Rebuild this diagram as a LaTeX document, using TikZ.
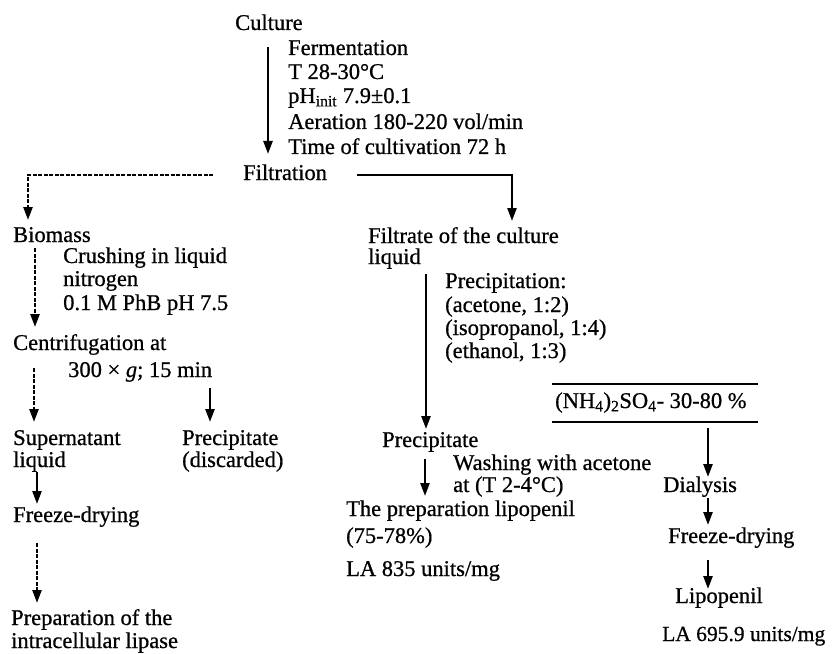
\documentclass[tikz,border=0pt]{standalone}
\usepackage{fontspec}
\setmainfont[FakeBold=0.7]{Liberation Serif}
\usetikzlibrary{arrows.meta}
\begin{document}
\begin{tikzpicture}[x=1bp,y=-1bp,
  txt/.style={anchor=base west,inner sep=0pt,font=\fontsize{22.5bp}{24bp}\selectfont},
  arr/.style={line width=2.4bp,-{Triangle[width=9bp,length=13bp]}},
  darr/.style={arr,dash pattern=on 4bp off 1.5bp},
  rule/.style={line width=1.8bp}]
\useasboundingbox (0,0) rectangle (832,654);
% top
\node[txt] (cult) at (235,30) {Culture};
\node[txt] (ferm1) at (288,55) {Fermentation};
\node[txt] (ferm2) at (288,79) {T 28-30°C};
\node[txt] (ferm3) at (288,103) {pH\textsubscript{init} 7.9±0.1};
\node[txt] (ferm4) at (288,129) {Aeration 180-220 vol/min};
\node[txt] (ferm5) at (288,154) {Time of cultivation 72 h};
\node[txt] (filt) at (243,180) {Filtration};
\coordinate (c1) at (268,47);
\coordinate (c2) at (268,154);
\draw[arr] (c1) -- (c2);
% left branch
\node[txt] (bio) at (13,242) {Biomass};
\node[txt] (cr1) at (63,263) {Crushing in liquid};
\node[txt] (cr2) at (63,286) {nitrogen};
\node[txt] (cr3) at (63,310) {0.1 M PhB pH 7.5};
\node[txt] (cen1) at (13,350) {Centrifugation at};
\node[txt] (cen2) at (68,377) {300 × \textit{g}; 15 min};
\node[txt] (sup1) at (13,445) {Supernatant};
\node[txt] (sup2) at (13,467) {liquid};
\node[txt] (pd1) at (182,445) {Precipitate};
\node[txt] (pd2) at (182,467) {(discarded)};
\node[txt] (fd1) at (13,522) {Freeze-drying};
\node[txt] (prep1) at (11,625) {Preparation of the};
\node[txt] (prep2) at (11,648) {intracellular lipase};
\coordinate (lf) at (213,175);
\coordinate (lb) at (28,220);
\draw[darr] (lf) -| (lb);
\coordinate (a1) at (35,248);
\coordinate (a2) at (35,327);
\draw[darr] (a1) -- (a2);
\coordinate (a3) at (34,368);
\coordinate (a4) at (34,422);
\draw[darr] (a3) -- (a4);
\coordinate (a5) at (210,388);
\coordinate (a6) at (210,422);
\draw[arr] (a5) -- (a6);
\coordinate (a7) at (37,472);
\coordinate (a8) at (37,504);
\draw[arr] (a7) -- (a8);
\coordinate (a9) at (37,543);
\coordinate (a10) at (37,603);
\draw[darr] (a9) -- (a10);
% middle branch
\node[txt] (fc1) at (368,243) {Filtrate of the culture};
\node[txt] (fc2) at (368,264) {liquid};
\node[txt] (pr1) at (445,288) {Precipitation:};
\node[txt] (pr2) at (445,312) {(acetone, 1:2)};
\node[txt] (pr3) at (445,335) {(isopropanol, 1:4)};
\node[txt] (pr4) at (445,358) {(ethanol, 1:3)};
\node[txt] (pc) at (382,447) {Precipitate};
\node[txt] (wa1) at (453,470) {Washing with acetone};
\node[txt] (wa2) at (453,492) {at (T 2-4°C)};
\node[txt] (lp1) at (346,516) {The preparation lipopenil};
\node[txt] (lp2) at (346,543) {(75-78\%)};
\node[txt] (lp3) at (346,576) {LA 835 units/mg};
\coordinate (rf) at (357,175);
\coordinate (rb) at (512,221);
\draw[arr] (rf) -| (rb);
\coordinate (b1) at (426,274);
\coordinate (b2) at (426,429);
\draw[arr] (b1) -- (b2);
\coordinate (b3) at (425,459);
\coordinate (b4) at (425,496);
\draw[arr] (b3) -- (b4);
% right branch
\coordinate (r1) at (552,384);
\coordinate (r2) at (758,384);
\coordinate (r3) at (552,422);
\coordinate (r4) at (758,422);
\draw[rule] (r1) -- (r2);
\draw[rule] (r3) -- (r4);
\node[txt] (am) at (555,408) {(NH\textsubscript{4})\textsubscript{2}SO\textsubscript{4}- 30-80 \%};
\node[txt] (dia) at (663,492) {Dialysis};
\node[txt] (fd2) at (668,543) {Freeze-drying};
\node[txt] (lip) at (675,603) {Lipopenil};
\node[txt,font=\fontsize{21.5bp}{24bp}\selectfont] (la) at (662,641) {LA 695.9 units/mg};
\coordinate (d1) at (708,428);
\coordinate (d2) at (708,477);
\draw[arr] (d1) -- (d2);
\coordinate (d3) at (708,498);
\coordinate (d4) at (708,525);
\draw[arr] (d3) -- (d4);
\coordinate (d5) at (708,560);
\coordinate (d6) at (708,589);
\draw[arr] (d5) -- (d6);
\end{tikzpicture}
\end{document}
